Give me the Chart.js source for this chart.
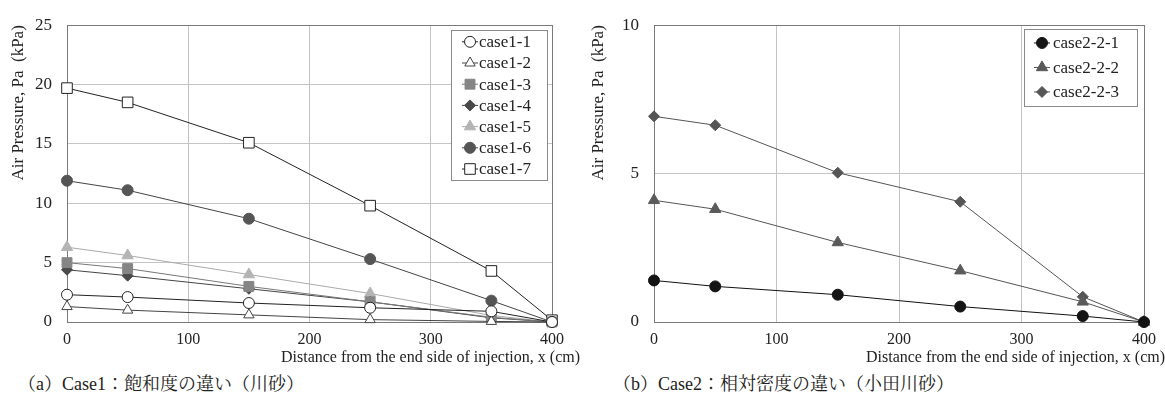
<!DOCTYPE html>
<html lang="en">
<head>
<meta charset="UTF-8" />
<title>Air Pressure</title>
<script src="https://cdn.jsdelivr.net/npm/chart.js"></script>
<style>
  body { margin: 0; background: #fff; color: #222; }
  .wrap { position: relative; width: 1165px; height: 416px; }
  .box { position: absolute; top: 0; height: 352px; }
  #left { left: 0; width: 580px; }
  #right { left: 580px; width: 585px; }
  .xtitle { position: absolute; top: 348px; font-size: 16px; white-space: nowrap; }
  .cap { position: absolute; top: 369px; font-size: 18px; white-space: nowrap; }
</style>
</head>
<body>
<div class="wrap">
  <div class="box" id="left"><canvas id="chart1"></canvas></div>
  <div class="box" id="right"><canvas id="chart2"></canvas></div>
  <div class="xtitle" style="right:585px;font-family:'Liberation Serif',serif">Distance from the end side of injection, x (cm)</div>
  <div class="xtitle" style="right:0;font-family:'Liberation Serif',serif">Distance from the end side of injection, x (cm)</div>
  <div class="cap" style="left:18px;font-family:'Liberation Serif','Noto Serif CJK JP',serif">（a）Case1：飽和度の違い（川砂）</div>
  <div class="cap" style="left:613px;font-family:'Liberation Serif','Noto Serif CJK JP',serif">（b）Case2：相対密度の違い（小田川砂）</div>
</div>
<script>
  // distance from the end side of injection (cm)
  const xs = [0, 50, 150, 250, 350, 400];

  // case1 (kPa)
  const case1_1 = [2.3, 2.1, 1.6, 1.2, 0.9, 0.0];
  const case1_2 = [1.3, 1.0, 0.6, 0.2, 0.05, 0.0];
  const case1_3 = [5.0, 4.5, 3.0, 1.7, 0.4, 0.0];
  const case1_4 = [4.4, 3.9, 2.8, 1.7, 0.35, 0.0];
  const case1_5 = [6.3, 5.6, 4.0, 2.4, 0.55, 0.0];
  const case1_6 = [11.9, 11.1, 8.7, 5.3, 1.8, 0.0];
  const case1_7 = [19.7, 18.5, 15.1, 9.8, 4.3, 0.15];

  // case2 (kPa)
  const case2_1 = [1.4, 1.2, 0.92, 0.52, 0.2, 0.0];
  const case2_2 = [4.1, 3.8, 2.68, 1.73, 0.68, 0.0];
  const case2_3 = [6.93, 6.63, 5.03, 4.05, 0.85, 0.0];

  Chart.defaults.font.family = "'Liberation Serif', serif";

  const toXY = (ys) => ys.map((y, i) => ({ x: xs[i], y: y }));

  const ds = (label, ys, line, style, radius, fill, stroke) => ({
    label: label,
    data: toXY(ys),
    borderColor: line,
    borderWidth: 1,
    pointStyle: style,
    pointRadius: radius,
    pointHoverRadius: radius,
    pointBackgroundColor: fill,
    pointBorderColor: stroke,
    pointBorderWidth: 1,
    tension: 0,
    clip: false,
  });

  // plot frame
  const framePlugin = {
    id: "frame",
    beforeDatasetsDraw(chart) {
      const a = chart.chartArea;
      const c = chart.ctx;
      c.save();
      c.strokeStyle = "#7a7a7a";
      c.lineWidth = 1;
      c.strokeRect(Math.round(a.left) + 0.5, Math.round(a.top) + 0.5,
        Math.round(a.right - a.left), Math.round(a.bottom - a.top));
      c.restore();
    },
  };

  // legend inside the plot, line + marker
  const boxLegend = {
    id: "boxLegend",
    afterDraw(chart, args, opts) {
      const a = chart.chartArea;
      const c = chart.ctx;
      const sets = chart.data.datasets;
      const w = opts.width, h = opts.rowH * sets.length + opts.padY * 2;
      const left = a.right - opts.right - w;
      const top = a.top + opts.top;
      c.save();
      c.fillStyle = "#fff";
      c.fillRect(left, top, w, h);
      c.strokeStyle = "#8a8a8a";
      c.lineWidth = 1;
      c.strokeRect(Math.round(left) + 0.5, Math.round(top) + 0.5, Math.round(w), Math.round(h));
      c.font = opts.size + "px 'Liberation Serif', serif";
      c.textBaseline = "middle";
      sets.forEach((s, i) => {
        const cy = top + opts.padY + opts.rowH * (i + 0.5);
        const mx = left + opts.markX;
        c.strokeStyle = s.borderColor;
        c.beginPath();
        c.moveTo(mx - 8, cy);
        c.lineTo(mx + 8, cy);
        c.stroke();
        c.fillStyle = s.pointBackgroundColor;
        c.strokeStyle = s.pointBorderColor;
        Chart.helpers.drawPoint(c, {
          pointStyle: s.pointStyle, radius: s.pointRadius, rotation: 0, borderWidth: 1,
        }, mx, cy);
        c.fillStyle = "#222";
        c.fillText(s.label, left + opts.textX, cy + 1);
      });
      c.restore();
    },
  };

  const makeChart = (id, sets, yMax, yStep, yWidth, padTop, padRight, legend) =>
    new Chart(document.getElementById(id), {
      type: "line",
      data: { datasets: sets },
      plugins: [framePlugin, boxLegend],
      options: {
        responsive: true,
        maintainAspectRatio: false,
        animation: false,
        layout: { padding: { top: padTop, right: padRight, left: 0, bottom: 0 } },
        plugins: { legend: { display: false }, tooltip: { enabled: false }, boxLegend: legend },
        scales: {
          x: {
            type: "linear",
            min: 0,
            max: 400,
            ticks: { stepSize: 100, color: "#222", padding: 8, font: { size: 16 } },
            grid: { color: "#c4c4c4", drawTicks: false },
            border: { display: false },
            afterFit(scale) { scale.height = 30; },
          },
          y: {
            min: 0,
            max: yMax,
            ticks: { stepSize: yStep, color: "#222", padding: 15, font: { size: 17 } },
            grid: { color: "#c4c4c4", drawTicks: false },
            border: { display: false },
            title: {
              display: true,
              text: "Air Pressure, Pa  (kPa)",
              align: "end",
              color: "#222",
              padding: { top: 8, bottom: 0 },
              font: { size: 17 },
            },
            afterFit(scale) { scale.width = yWidth; },
          },
        },
      },
    });

  makeChart("chart1", [
    ds("case1-1", case1_1, "#222", "circle", 5.5, "#fff", "#222"),
    ds("case1-2", case1_2, "#444", "triangle", 6, "#fff", "#444"),
    ds("case1-3", case1_3, "#777", "rect", 7, "#858585", "#858585"),
    ds("case1-4", case1_4, "#444", "rectRot", 5.5, "#4a4a4a", "#4a4a4a"),
    ds("case1-5", case1_5, "#aaa", "triangle", 6.5, "#b4b4b4", "#b4b4b4"),
    ds("case1-6", case1_6, "#444", "circle", 5.5, "#555", "#555"),
    ds("case1-7", case1_7, "#222", "rect", 7.5, "#fff", "#222"),
  ], 25, 5, 67, 15, 28,
  { width: 96, right: 5, top: 5, rowH: 21.2, padY: 1, markX: 19, textX: 28, size: 17 });

  makeChart("chart2", [
    ds("case2-2-1", case2_1, "#111", "circle", 5.5, "#141414", "#141414"),
    ds("case2-2-2", case2_2, "#555", "triangle", 6.5, "#5a5a5a", "#5a5a5a"),
    ds("case2-2-3", case2_3, "#555", "rectRot", 5.5, "#555", "#555"),
  ], 10, 5, 74, 19, 21,
  { width: 113, right: 7, top: 4, rowH: 24.5, padY: 1.5, markX: 18, textX: 29, size: 17 });
</script>
</body>
</html>
